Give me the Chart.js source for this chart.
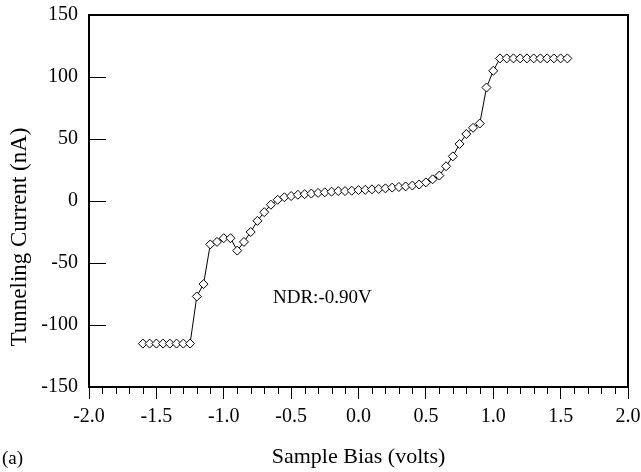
<!DOCTYPE html>
<html>
<head>
<meta charset="utf-8">
<script src="https://cdn.jsdelivr.net/npm/chart.js@4"></script>
<style>
  html, body { margin: 0; padding: 0; background: #fff; }
  #wrap { width: 641px; height: 472px; position: relative; }
</style>
</head>
<body>
<div id="wrap"><canvas id="c"></canvas></div>
<script>
// Sample bias (V)
const biasVolts = [
  -1.60, -1.55, -1.50, -1.45, -1.40, -1.35, -1.30, -1.25,
  -1.20, -1.15, -1.10, -1.05, -1.00, -0.95, -0.90, -0.85,
  -0.80, -0.75, -0.70, -0.65, -0.60, -0.55, -0.50, -0.45,
  -0.40, -0.35, -0.30, -0.25, -0.20, -0.15, -0.10, -0.05,
   0.00,  0.05,  0.10,  0.15,  0.20,  0.25,  0.30,  0.35,
   0.40,  0.45,  0.50,  0.55,  0.60,  0.65,  0.70,  0.75,
   0.80,  0.85,  0.90,  0.95,  1.00,  1.05,  1.10,  1.15,
   1.20,  1.25,  1.30,  1.35,  1.40,  1.45,  1.50,  1.55
];
// Tunneling current (nA)
const currentNA = [
  -115, -115, -115, -115, -115, -115, -115, -115,
   -77,  -67,  -35,  -33,  -30,  -30,  -40,  -33,
   -25,  -16,   -9,   -3,    1,    3,    4,    5,
   5.5,    6,  6.5,    7,  7.5,    8,    8,  8.3,
   8.8,    9,  9.4,  9.7, 10.2, 10.8, 11.3, 11.8,
  12.5, 13.3,   15, 17.5, 20.5,   28,   36,   46,
    54,   59, 62.5, 91.5,  105,  115,  115,  115,
   115,  115,  115,  115,  115,  115,  115,  115
];
const xTickLabels = ['-2.0', '-1.5', '-1.0', '-0.5', '0.0', '0.5', '1.0', '1.5', '2.0'];
const yTickLabels = ['-150', '-100', '-50', '0', '50', '100', '150'];
const xTitle = 'Sample Bias (volts)';
const yTitle = 'Tunneling Current (nA)';
const annotationText = 'NDR:-0.90V';
const panelLabel = '(a)';

const SERIF = '"Liberation Serif", "DejaVu Serif", serif';

const framePlugin = {
  id: 'frameAndText',
  afterDraw(chart) {
    const ctx = chart.ctx;
    const a = chart.chartArea;
    const xs = chart.scales.x, ys = chart.scales.y;
    ctx.save();
    ctx.strokeStyle = '#000';
    ctx.lineWidth = 2;
    ctx.beginPath();
    ctx.moveTo(a.left, a.top);
    ctx.lineTo(a.right, a.top);
    ctx.lineTo(a.right, a.bottom);
    ctx.stroke();
    ctx.lineWidth = 1;
    ctx.beginPath();
    [-100, -50, 0, 50, 100].forEach(v => {
      const py = Math.round(ys.getPixelForValue(v)) + 0.5;
      ctx.moveTo(a.left, py);
      ctx.lineTo(a.left + 17, py);
    });
    for (let i = -20; i <= 20; i++) {
      if (i % 5 === 0) continue;
      const px = Math.round(xs.getPixelForValue(i / 10)) + 0.5;
      ctx.moveTo(px, a.bottom);
      ctx.lineTo(px, a.bottom + 7);
    }
    ctx.stroke();
    ctx.fillStyle = '#000';
    ctx.textBaseline = 'middle';
    ctx.textAlign = 'left';
    ctx.font = '19px ' + SERIF;
    ctx.fillText(annotationText, 273, 298);
    ctx.fillText(panelLabel, 2, 459);
    ctx.font = '22px ' + SERIF;
    ctx.textAlign = 'center';
    ctx.fillText(xTitle, (a.left + a.right) / 2, 457);
    ctx.translate(20, 237);
    ctx.rotate(-Math.PI / 2);
    ctx.font = '23px ' + SERIF;
    ctx.fillText(yTitle, 0, 0);
    ctx.restore();
  }
};

new Chart(document.getElementById('c'), {
  type: 'line',
  data: {
    datasets: [{
      data: biasVolts.map((x, i) => ({ x: x, y: currentNA[i] })),
      borderColor: '#000',
      borderWidth: 1,
      backgroundColor: '#fff',
      pointStyle: 'rectRot',
      pointRadius: 4.5,
      pointBorderWidth: 1,
      pointBackgroundColor: '#fff',
      pointBorderColor: '#000',
      tension: 0,
      fill: false
    }]
  },
  options: {
    responsive: true,
    maintainAspectRatio: false,
    animation: false,
    events: [],
    layout: { padding: { left: 0, right: 13, top: 15, bottom: 0 } },
    plugins: { legend: { display: false }, tooltip: { enabled: false } },
    scales: {
      x: {
        type: 'linear', min: -2, max: 2,
        afterFit(s) { s.height = 85; s.paddingLeft = 0; s.paddingRight = 0; },
        afterBuildTicks(s) { s.ticks = xTickLabels.map(t => ({ value: parseFloat(t) })); },
        ticks: {
          callback: (v) => xTickLabels.find(t => parseFloat(t) === v) ?? '',
          color: '#000', font: { family: SERIF, size: 20 }, padding: 6, maxRotation: 0, autoSkip: false
        },
        grid: { drawOnChartArea: false, drawTicks: true, tickLength: 12, color: '#000', lineWidth: 1 },
        border: { display: true, color: '#000', width: 2 }
      },
      y: {
        min: -150, max: 150,
        afterFit(s) { s.width = 89; s.paddingTop = 0; s.paddingBottom = 0; },
        afterBuildTicks(s) { s.ticks = yTickLabels.map(t => ({ value: parseFloat(t) })); },
        ticks: {
          callback: (v) => yTickLabels.find(t => parseFloat(t) === v) ?? '',
          color: '#000', font: { family: SERIF, size: 20 }, padding: 11, autoSkip: false
        },
        grid: { drawOnChartArea: false, drawTicks: false, color: '#000' },
        border: { display: true, color: '#000', width: 2 }
      }
    }
  },
  plugins: [framePlugin]
});
</script>
</body>
</html>
